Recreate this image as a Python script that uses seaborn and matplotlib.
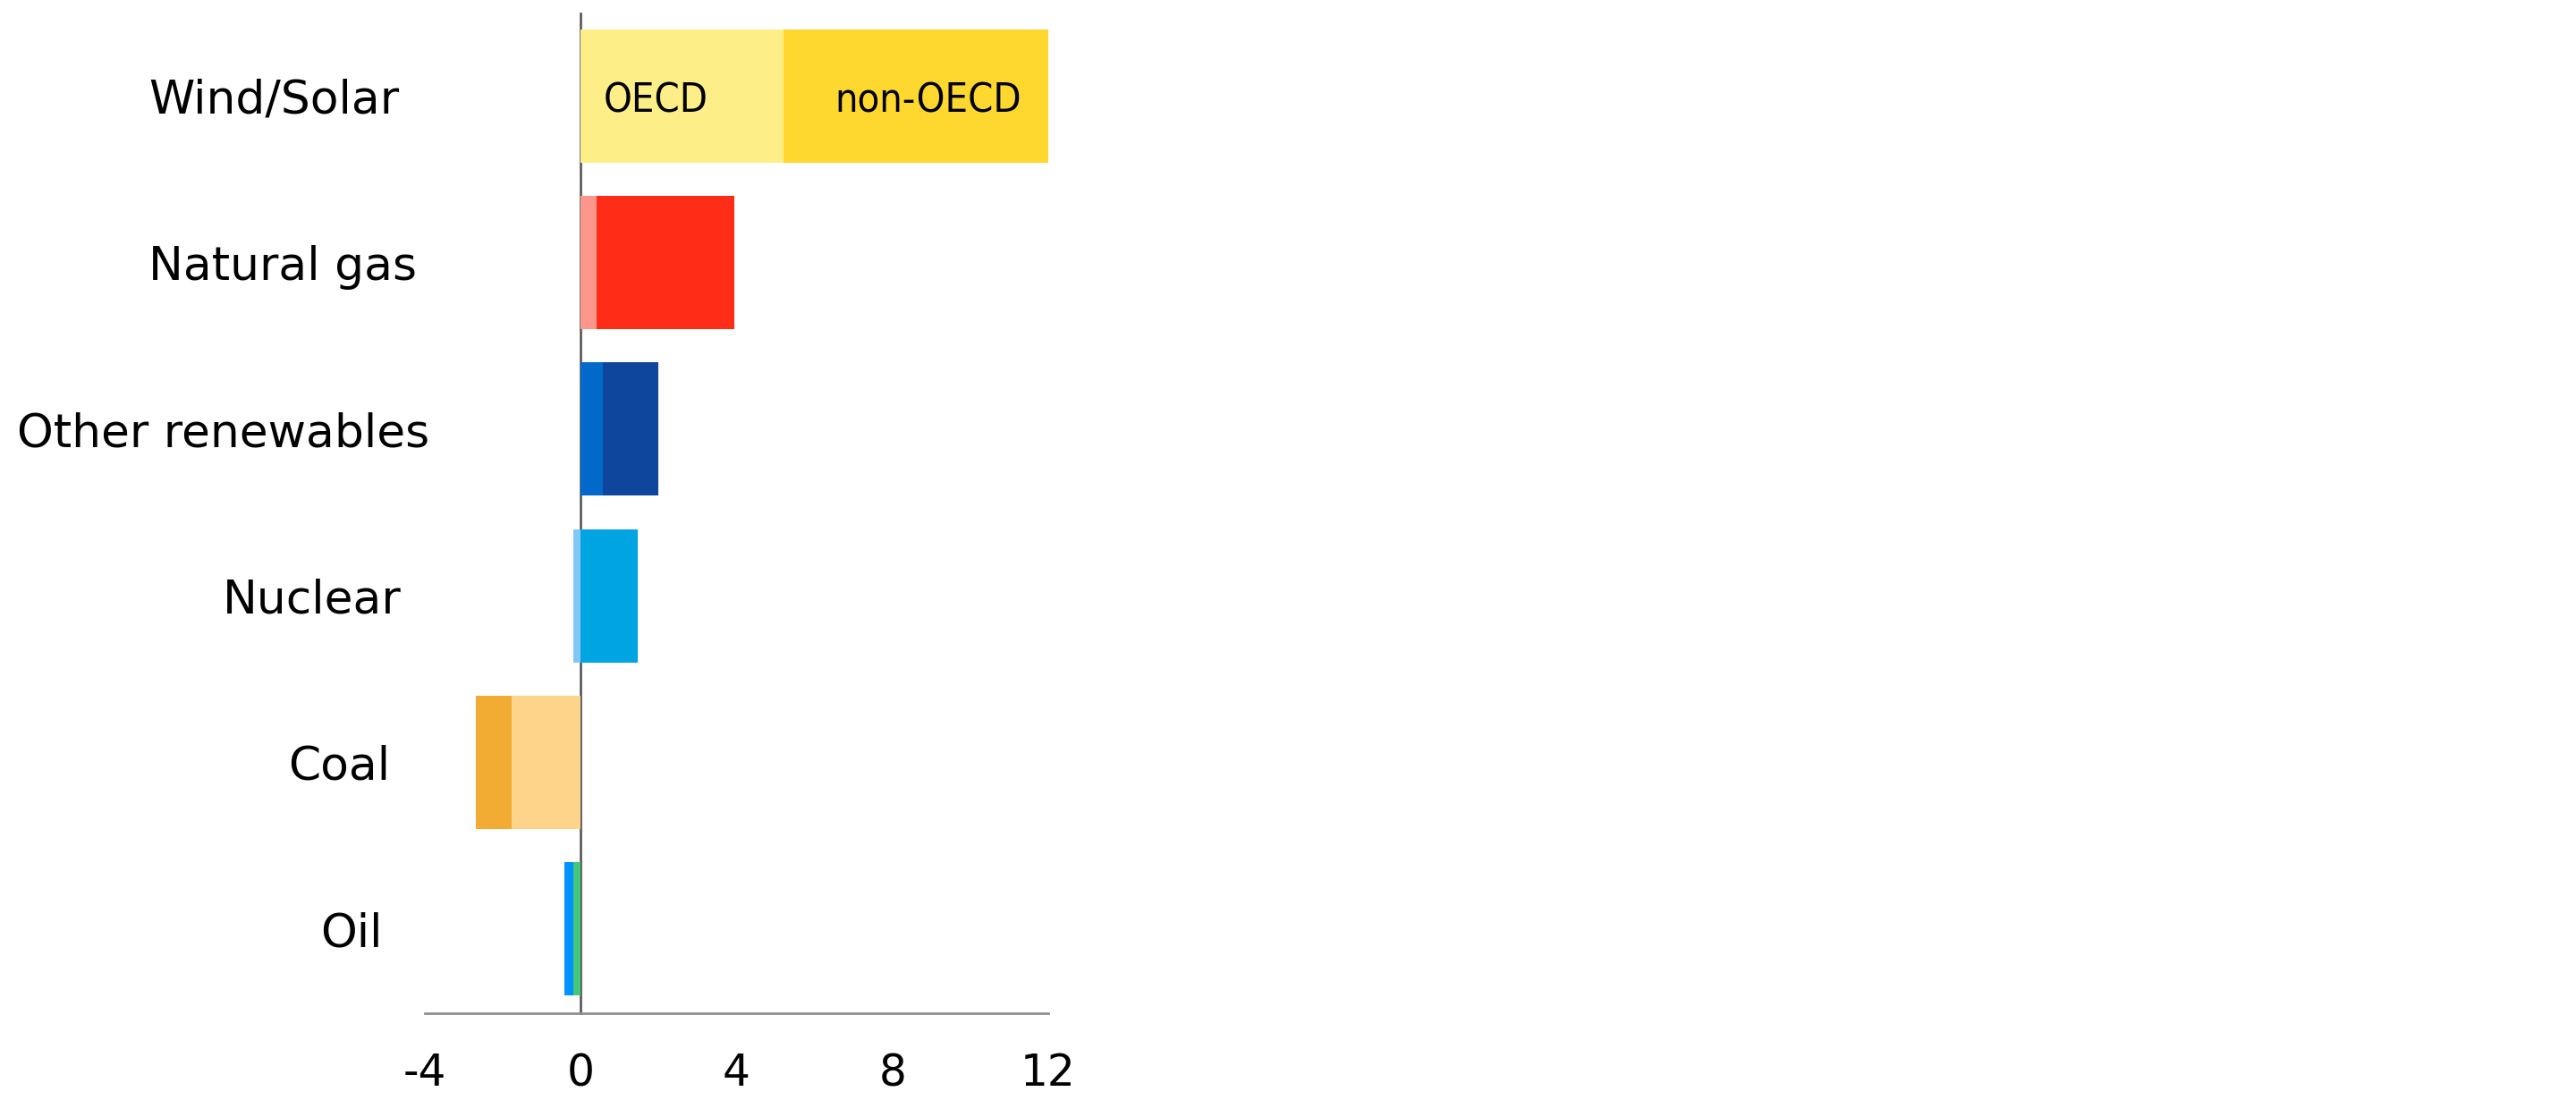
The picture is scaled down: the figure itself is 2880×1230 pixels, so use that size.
import matplotlib
matplotlib.use("Agg")
import matplotlib.pyplot as plt
import matplotlib.transforms as mtransforms
import seaborn as sns
import pandas as pd

# ---------------- data ----------------
categories = ["Wind/Solar", "Natural gas", "Other renewables", "Nuclear", "Coal", "Oil"]
oecd = [5.2, 0.4, 0.57, -0.19, -1.78, -0.2]
non_oecd = [6.8, 3.55, 1.42, 1.47, -0.91, -0.21]
series_labels = ["OECD", "non-OECD"]
x_ticks = [-4, 0, 4, 8, 12]
x_tick_labels = ["-4", "0", "4", "8", "12"]

# ---------------- styles ----------------
oecd_colors = ["#FEEE88", "#FF968B", "#0069CA", "#82C7F6", "#FDD48A", "#43C87A"]
non_oecd_colors = ["#FFD82F", "#FF2D17", "#0D469C", "#00A4E1", "#F2AC33", "#0092FF"]
label_left_px = [166, 166, 19, 249, 322, 358]

W, H, DPI = 2880, 1230, 200

sns.set_theme(style="white")
plt.rcParams["font.family"] = ["DejaVu Sans"]
plt.rcParams["axes.unicode_minus"] = False

fig = plt.figure(figsize=(W / DPI, H / DPI), dpi=DPI)
ax_left, ax_right, ax_top, ax_bottom = 475, 1172, 14.5, 1133
ax = fig.add_axes([ax_left / W, (H - ax_bottom) / H,
                   (ax_right - ax_left) / W, (ax_bottom - ax_top) / H])

# diverging stacking: positives stack from 0 to the right, negatives to the left
non_extent = [n + o if (n >= 0) == (o >= 0) else n for o, n in zip(oecd, non_oecd)]

df_outer = pd.DataFrame({"category": categories, "value": non_extent})
df_inner = pd.DataFrame({"category": categories, "value": oecd})

common = dict(x="value", y="category", hue="category", order=categories,
              hue_order=categories, orient="h", width=0.8, saturation=1,
              errorbar=None, legend=False, linewidth=0, edgecolor="none", ax=ax)
sns.barplot(data=df_outer, palette=dict(zip(categories, non_oecd_colors)),
            zorder=2, **common)
sns.barplot(data=df_inner, palette=dict(zip(categories, oecd_colors)),
            zorder=3, **common)

ax.set_xlim(x_ticks[0], x_ticks[-1])
ax.set_ylim(5.506, -0.498)
ax.set_xlabel("")
ax.set_ylabel("")
ax.set_facecolor("white")

for s in ["top", "right"]:
    ax.spines[s].set_visible(False)
ax.spines["left"].set_position(("data", 0))
ax.spines["left"].set_color("#555555")
ax.spines["left"].set_linewidth(0.95)
ax.spines["left"].set_zorder(1)
ax.spines["bottom"].set_color("#8f8f8f")
ax.spines["bottom"].set_linewidth(1.0)

ax.set_yticks([])
ax.set_xticks(x_ticks)
ax.set_xticklabels(x_tick_labels)
ax.tick_params(axis="x", length=0, pad=15.5, labelsize=17.5, labelcolor="black")

# category labels
trans = mtransforms.blended_transform_factory(fig.transFigure, ax.transData)
for i, (cat, px) in enumerate(zip(categories, label_left_px)):
    fig.text(px / W, i, cat, transform=trans, ha="left", va="center_baseline",
             fontsize=18.7, color="black")

# series labels inside the first bar
ax.annotate(series_labels[0], xy=(0, 0), xytext=(9.2, -0.6), textcoords="offset points",
            ha="left", va="center_baseline", fontsize=16.2, color="black",
            family=["DejaVu Sans"], fontstretch="condensed", zorder=5)
ax.annotate(series_labels[1], xy=(non_extent[0], 0), xytext=(-10.8, -0.6),
            textcoords="offset points", ha="right", va="center_baseline",
            fontsize=16.2, color="black", family=["DejaVu Sans"],
            fontstretch="condensed", zorder=5)

fig.savefig("out.png", dpi=DPI, facecolor="white")
